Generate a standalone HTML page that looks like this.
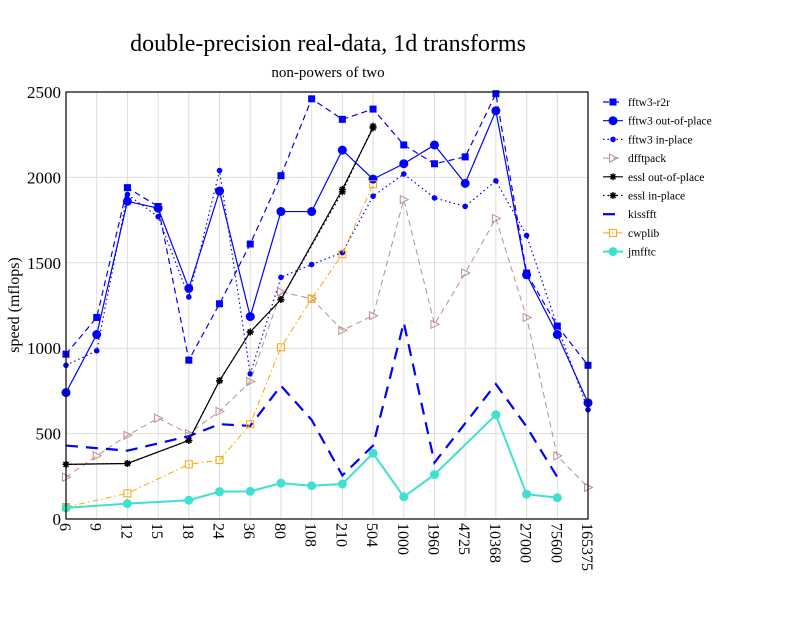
<!DOCTYPE html>
<html><head><meta charset="utf-8"><style>
body{margin:0;background:#fff}
svg text{font-family:"Liberation Serif",serif}
</style></head><body>
<svg id="c" width="792" height="612" xmlns="http://www.w3.org/2000/svg">
<text x="328" y="51" font-size="24" text-anchor="middle">double-precision real-data, 1d transforms</text>
<text x="328" y="77" font-size="15" text-anchor="middle">non-powers of two</text>
<text transform="translate(19,305) rotate(-90)" font-size="16" text-anchor="middle">speed (mflops)</text>
<g id="grid"></g>
<g id="series"></g>
<rect x="66" y="92" width="522" height="427" fill="none" stroke="#000" stroke-width="1.2"/>
<g id="axes"></g>
<g id="legend"></g>
</svg>
<script>
const categories=["6","9","12","15","18","24","36","80","108","210","504","1000","1960","4725","10368","27000","75600","165375"];
const yTicks=[0,500,1000,1500,2000,2500];
const r2r=[965,1180,1940,1830,930,1260,1610,2010,2460,2340,2400,2190,2080,2120,2490,1440,1130,900];
const outPlace=[740,1080,1860,1820,1350,1920,1185,1800,1800,2160,1990,2080,2190,1965,2390,1430,1080,680];
const inPlace=[900,985,1900,1770,1300,2040,850,1415,1490,1560,1890,2020,1880,1830,1980,1660,1130,640];
const dfftpack=[245,370,490,590,500,630,805,1330,1290,1105,1190,1870,1140,1440,1760,1180,370,185];
const esslOut=[320,null,325,null,460,810,1095,1285,null,1930,2290,null,null,null,null,null,null,null];
const esslIn=[320,null,325,null,460,810,1095,1285,null,1915,2300,null,null,null,null,null,null,null];
const kissfft=[430,null,400,null,485,555,545,780,580,255,430,1150,330,null,790,540,245,null];
const cwplib=[70,null,150,null,320,345,555,1005,1290,1550,1960,null,null,null,null,null,null,null];
const jmfftc=[65,null,90,null,110,160,162,210,195,205,385,130,260,null,610,145,125,null];

const X0=66,X1=588,Y0=519,Y1=92;
const xs=i=>X0+i*(X1-X0)/(categories.length-1);
const ys=v=>Y0-v*(Y0-Y1)/2500;
const NS="http://www.w3.org/2000/svg";
function mk(p,t,a){const e=document.createElementNS(NS,t);for(const k in a)e.setAttribute(k,a[k]);p.appendChild(e);return e;}
const grid=document.getElementById('grid'),axes=document.getElementById('axes'),ser=document.getElementById('series'),leg=document.getElementById('legend');
categories.forEach((c,i)=>{
 const l=mk(grid,'line',{x1:xs(i),x2:xs(i),y1:Y1,y2:Y0,stroke:'#ddd','stroke-width':1});
 
 
 const t=mk(axes,'text',{transform:`translate(${xs(i)-6},523) rotate(90)`,'font-size':16});
 t.textContent=c;
 
 
});
yTicks.forEach(v=>{
 const l=mk(grid,'line',{x1:X0,x2:X1,y1:ys(v),y2:ys(v),stroke:'#ddd','stroke-width':1});
 
 
 const t=mk(axes,'text',{x:61,y:ys(v)+6,'font-size':17,'text-anchor':'end'});
 t.textContent=v;
 
 
});
function marker(g,type,x,y,col){
 let e;
 if(type==='sq') e=mk(g,'rect',{x:x-3.5,y:y-3.5,width:7,height:7,fill:col});
 else if(type==='circ') e=mk(g,'circle',{cx:x,cy:y,r:4.5,fill:col});
 else if(type==='dot') e=mk(g,'circle',{cx:x,cy:y,r:2.8,fill:col});
 else if(type==='tri') e=mk(g,'path',{d:`M${x-3.5},${y-4}L${x+4.5},${y}L${x-3.5},${y+4}Z`,fill:'none',stroke:col});
 else if(type==='star') e=mk(g,'path',{d:`M${x-3.5},${y}H${x+3.5}M${x},${y-3.5}V${y+3.5}M${x-2.5},${y-2.5}L${x+2.5},${y+2.5}M${x-2.5},${y+2.5}L${x+2.5},${y-2.5}`,stroke:col,'stroke-width':1.4});
 else if(type==='osq') e=mk(g,'rect',{x:x-3.5,y:y-3.5,width:7,height:7,fill:'none',stroke:col});
 else if(type==='jm') e=mk(g,'circle',{cx:x,cy:y,r:4.5,fill:col});
 if(e){}
}
const defs=[
 ['fftw3-r2r',r2r,'#0000ff','6,4',1.2,'sq'],
 ['fftw3 out-of-place',outPlace,'#0000ff','',1.2,'circ'],
 ['fftw3 in-place',inPlace,'#0000ff','1.5,3',1.2,'dot'],
 ['dfftpack',dfftpack,'#bc8f8f','6,4',1,'tri'],
 ['essl out-of-place',esslOut,'#000','',1.2,'star'],
 ['essl in-place',esslIn,'#000','1.5,3',1.2,'star'],
 ['kissfft',kissfft,'#0000ff','12,8',2.2,''],
 ['cwplib',cwplib,'#ffa500','6,3,1.5,3',1,'osq'],
 ['jmfftc',jmfftc,'#40e0d0','',2,'jm']
];
defs.forEach((d,k)=>{
 const [name,vals,col,dash,w,m]=d;
 const g=mk(ser,'g',{});
 
 
 let pts=[];vals.forEach((v,i)=>{if(v!=null)pts.push([xs(i),ys(v)]);});
 const p=mk(g,'polyline',{points:pts.map(p=>p.join(',')).join(' '),fill:'none',stroke:col,'stroke-width':w,'stroke-dasharray':dash});
 
 
 pts.forEach(q=>marker(g,m,q[0],q[1],col));
 const ly=102+k*18.7;
 const lg=mk(leg,'g',{});
 
 
 mk(lg,'line',{x1:603,x2:623,y1:ly,y2:ly,stroke:col,'stroke-width':w,'stroke-dasharray':dash});
 marker(lg,m,613,ly,col);
 const t=mk(lg,'text',{x:628,y:ly+4,'font-size':11.5});
 t.textContent=name;
});
</script>
</body></html>
